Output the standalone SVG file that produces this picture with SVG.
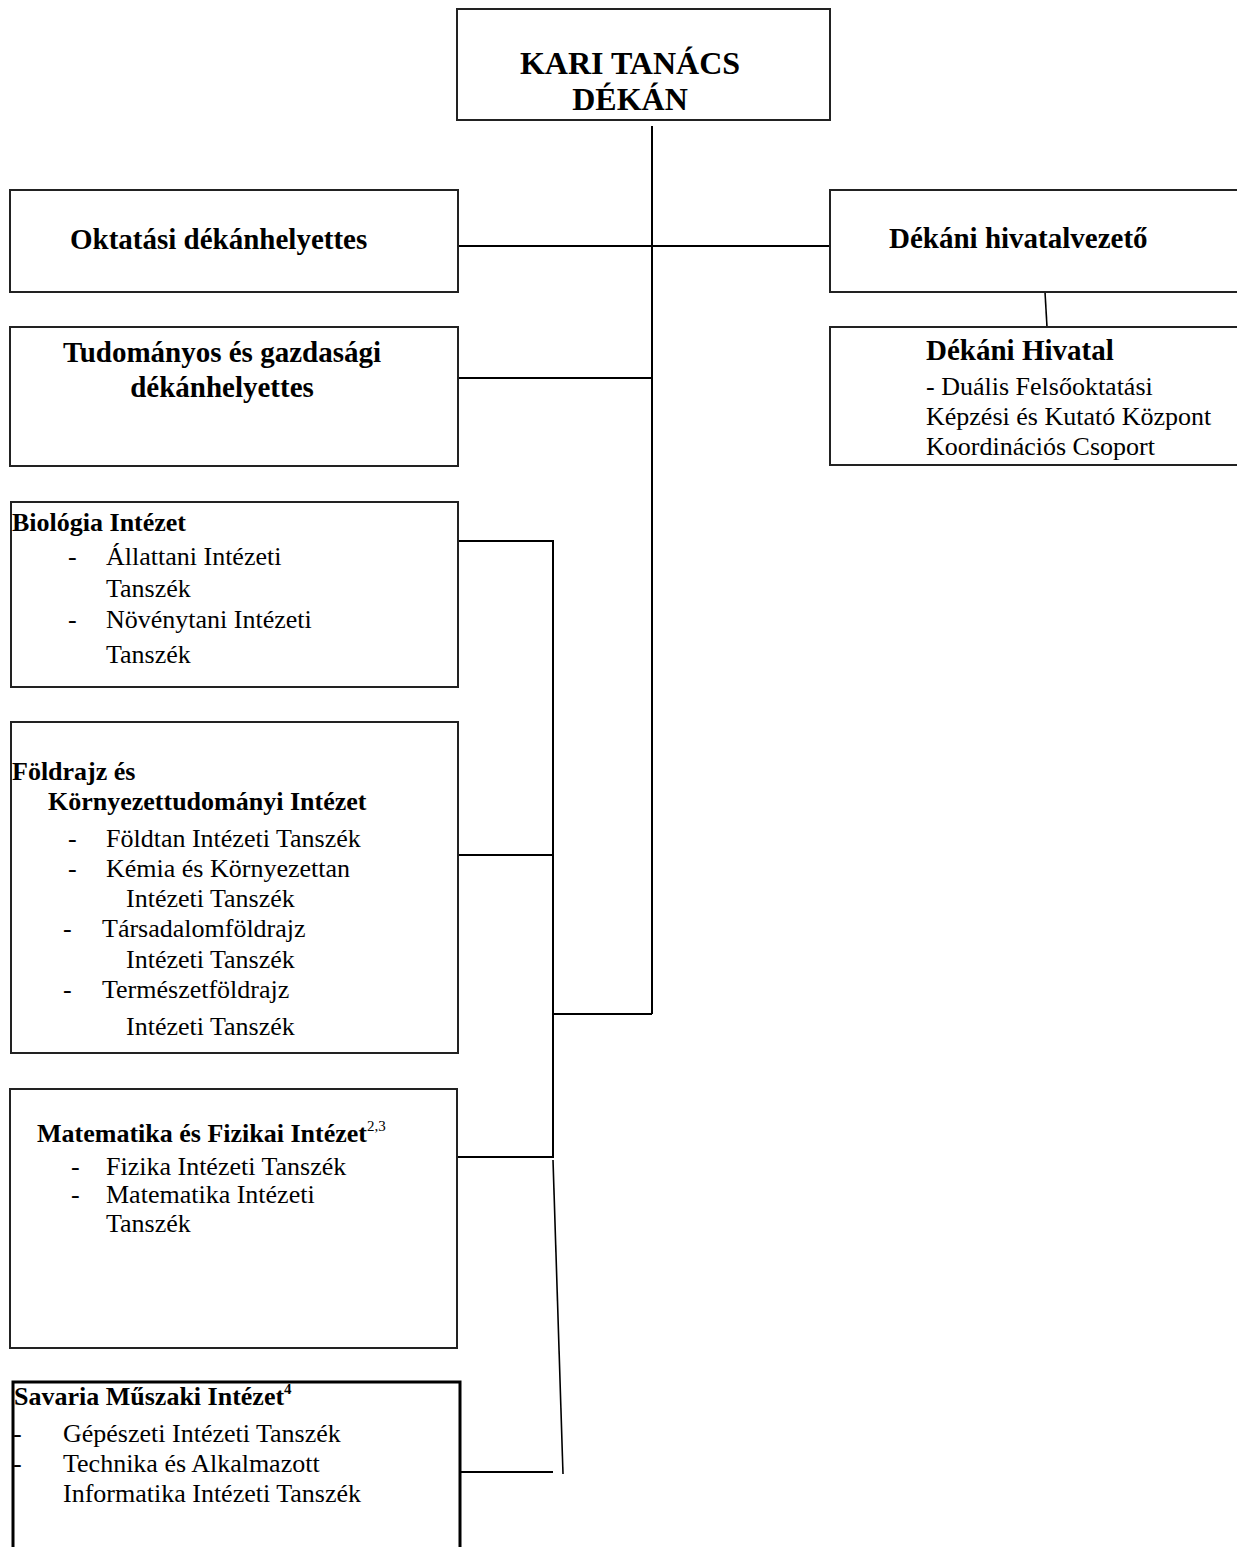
<svg xmlns="http://www.w3.org/2000/svg" width="1237" height="1547" viewBox="0 0 1237 1547">
<style>
.box{fill:#fff;stroke:#222;stroke-width:2}
.thick{fill:#fff;stroke:#000;stroke-width:3}
.ln{fill:none;stroke:#000;stroke-width:2}
.thin{fill:none;stroke:#000;stroke-width:1.6}
text{font-family:"Liberation Serif","Times New Roman",serif;fill:#000}
.h1{font-size:32px;font-weight:bold}
.h2{font-size:29px;font-weight:bold}
.h3{font-size:26px;font-weight:bold}
.b{font-size:26px}
.sup{font-size:15px}
.mid{text-anchor:middle}
</style>
<rect width="1237" height="1547" fill="#fff"/>
<g id="connectors">
<line class="ln" x1="652" y1="126" x2="652" y2="1014"/>
<line class="ln" x1="458" y1="246" x2="830" y2="246"/>
<line class="ln" x1="458" y1="378" x2="652" y2="378"/>
<line class="thin" x1="1045" y1="292" x2="1047" y2="327"/>
<polyline class="ln" points="458,541 553,541 553,1157 458,1157"/>
<line class="ln" x1="458" y1="855" x2="553" y2="855"/>
<line class="ln" x1="553" y1="1014" x2="652" y2="1014"/>
<line class="thin" x1="553" y1="1160" x2="563" y2="1474"/>
<line class="ln" x1="460" y1="1472" x2="553" y2="1472"/>
</g>
<g id="kari-tanacs">
<rect class="box" x="457" y="9" width="373" height="111"/>
<text class="h1 mid" x="630" y="74">KARI TANÁCS</text>
<text class="h1 mid" x="630" y="110">DÉKÁN</text>
</g>
<g id="oktatasi">
<rect class="box" x="10" y="190" width="448" height="102"/>
<text class="h2" x="70" y="249">Oktatási dékánhelyettes</text>
</g>
<g id="tudomanyos">
<rect class="box" x="10" y="327" width="448" height="139"/>
<text class="h2 mid" x="222" y="362">Tudományos és gazdasági</text>
<text class="h2 mid" x="222" y="397">dékánhelyettes</text>
</g>
<g id="hivatalvezeto">
<rect class="box" x="830" y="190" width="410" height="102"/>
<text class="h2" x="889" y="248">Dékáni hivatalvezető</text>
</g>
<g id="dekani-hivatal">
<rect class="box" x="830" y="327" width="410" height="138"/>
<text class="h2" x="926" y="360">Dékáni Hivatal</text>
<text class="b" x="926" y="395">- Duális Felsőoktatási</text>
<text class="b" x="926" y="425">Képzési és Kutató Központ</text>
<text class="b" x="926" y="455">Koordinációs Csoport</text>
</g>
<g id="biologia">
<rect class="box" x="11" y="502" width="447" height="185"/>
<text class="h3" x="12" y="531">Biológia Intézet</text>
<text class="b" x="68" y="565">-</text>
<text class="b" x="106" y="565">Állattani Intézeti</text>
<text class="b" x="106" y="597">Tanszék</text>
<text class="b" x="68" y="628">-</text>
<text class="b" x="106" y="628">Növénytani Intézeti</text>
<text class="b" x="106" y="663">Tanszék</text>
</g>
<g id="foldrajz">
<rect class="box" x="11" y="722" width="447" height="331"/>
<text class="h3" x="12" y="780">Földrajz és</text>
<text class="h3" x="48" y="810">Környezettudományi Intézet</text>
<text class="b" x="68" y="847">-</text>
<text class="b" x="106" y="847">Földtan Intézeti Tanszék</text>
<text class="b" x="68" y="877">-</text>
<text class="b" x="106" y="877">Kémia és Környezettan</text>
<text class="b" x="126" y="907">Intézeti Tanszék</text>
<text class="b" x="63" y="937">-</text>
<text class="b" x="102" y="937">Társadalomföldrajz</text>
<text class="b" x="126" y="968">Intézeti Tanszék</text>
<text class="b" x="63" y="998">-</text>
<text class="b" x="102" y="998">Természetföldrajz</text>
<text class="b" x="126" y="1035">Intézeti Tanszék</text>
</g>
<g id="matematika">
<rect class="box" x="10" y="1089" width="447" height="259"/>
<text class="h3" x="37" y="1142">Matematika és Fizikai Intézet<tspan class="sup" font-weight="normal" dy="-11">2,3</tspan></text>
<text class="b" x="71" y="1175">-</text>
<text class="b" x="106" y="1175">Fizika Intézeti Tanszék</text>
<text class="b" x="71" y="1203">-</text>
<text class="b" x="106" y="1203">Matematika Intézeti</text>
<text class="b" x="106" y="1232">Tanszék</text>
</g>
<g id="savaria">
<path class="thick" d="M13,1550 V1382 H460 V1550"/>
<text class="h3" x="14" y="1405">Savaria Műszaki Intézet<tspan class="sup" font-weight="bold" dy="-11">4</tspan></text>
<text class="b" x="13" y="1442">-</text>
<text class="b" x="63" y="1442">Gépészeti Intézeti Tanszék</text>
<text class="b" x="13" y="1472">-</text>
<text class="b" x="63" y="1472">Technika és Alkalmazott</text>
<text class="b" x="63" y="1502">Informatika Intézeti Tanszék</text>
</g>
</svg>
